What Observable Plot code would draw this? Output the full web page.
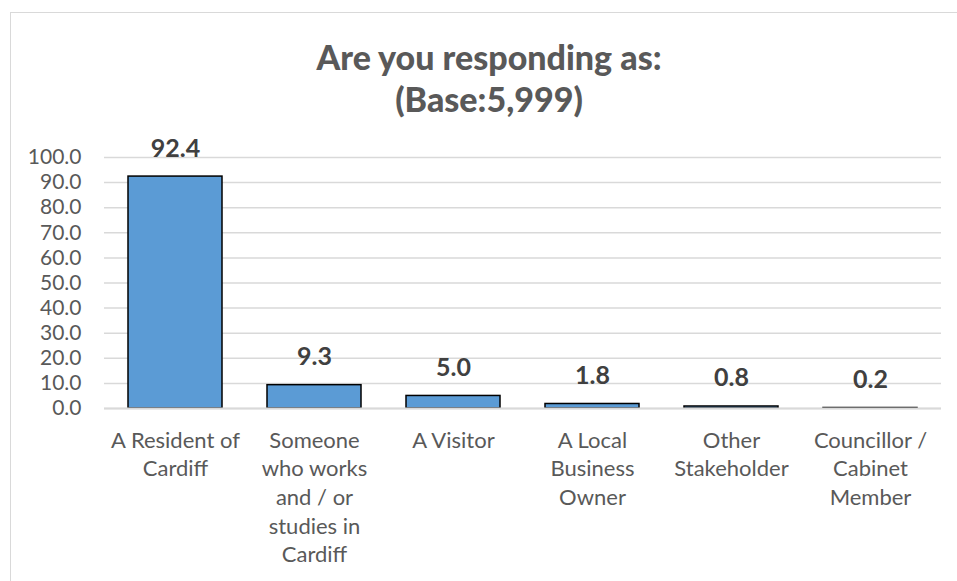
<!DOCTYPE html>
<html>
<head>
<meta charset="utf-8">
<script src="https://cdn.jsdelivr.net/npm/d3@7"></script>
<script src="https://cdn.jsdelivr.net/npm/@observablehq/plot@0.6"></script>
<style>
  html, body { margin: 0; padding: 0; background: #fff; }
  #wrap { position: relative; width: 957px; height: 581px; overflow: hidden; font-family: Lato, "Open Sans", sans-serif; }
  #frame { position: absolute; left: 10px; top: 12px; width: 980px; height: 600px; border-top: 1.5px solid #d9d9d9; border-left: 1.5px solid #d9d9d9; }
  #title { position: absolute; left: 10px; width: 958px; top: 36px; text-align: center; font-weight: 900; font-size: 34px; line-height: 42px; color: #595959; }
  #chart { position: absolute; left: 0; top: 0; }
</style>
</head>
<body>
<div id="wrap">
  <div id="frame"></div>
  <div id="chart"></div>
  <div id="title">Are you responding as:<br>(Base:5,999)</div>
</div>
<script>
const categories = ["A Resident of Cardiff", "Someone who works and / or studies in Cardiff", "A Visitor", "A Local Business Owner", "Other Stakeholder", "Councillor / Cabinet Member"];
const categoryLines = [
  ["A Resident of", "Cardiff"],
  ["Someone", "who works", "and / or", "studies in", "Cardiff"],
  ["A Visitor"],
  ["A Local", "Business", "Owner"],
  ["Other", "Stakeholder"],
  ["Councillor /", "Cabinet", "Member"]
];
const values = [92.4, 9.3, 5.0, 1.8, 0.8, 0.2];
const yTicks = [0, 10, 20, 30, 40, 50, 60, 70, 80, 90, 100];

const data = categories.map((c, i) => ({category: c, value: values[i]}));
const wrapped = new Map(categories.map((c, i) => [c, categoryLines[i].join("\n")]));

const chart = Plot.plot({
  width: 957,
  height: 581,
  marginTop: 157,
  marginBottom: 173,
  marginLeft: 104,
  marginRight: 16,
  style: {fontFamily: "Lato, 'Open Sans', sans-serif", background: "transparent", overflow: "visible"},
  x: {domain: categories, paddingInner: 0.326, paddingOuter: 0.163},
  y: {domain: [0, 100]},
  marks: [
    Plot.gridY(yTicks, {stroke: "#d9d9d9", strokeOpacity: 1, strokeWidth: 1.5}),
    Plot.barY(data, {x: "category", y: "value", fill: "#5b9bd5", stroke: "#000", strokeWidth: 1.5}),
    Plot.ruleY([0], {stroke: "#d9d9d9", strokeWidth: 2}),
    Plot.text(data, {x: "category", y: "value", text: d => d.value.toFixed(1), dy: -20, lineAnchor: "bottom", fontWeight: "bold", fontSize: 25, fill: "#404040"}),
    Plot.axisY({ticks: yTicks, tickFormat: d => d.toFixed(1), tickSize: 0, tickPadding: 23, fontSize: 21, fill: "#595959", label: null}),
    Plot.axisX({tickFormat: d => wrapped.get(d), tickSize: 0, tickPadding: 19, fontSize: 22, lineHeight: 1.3, fill: "#595959", label: null})
  ]
});
document.getElementById("chart").appendChild(chart);
</script>
</body>
</html>
